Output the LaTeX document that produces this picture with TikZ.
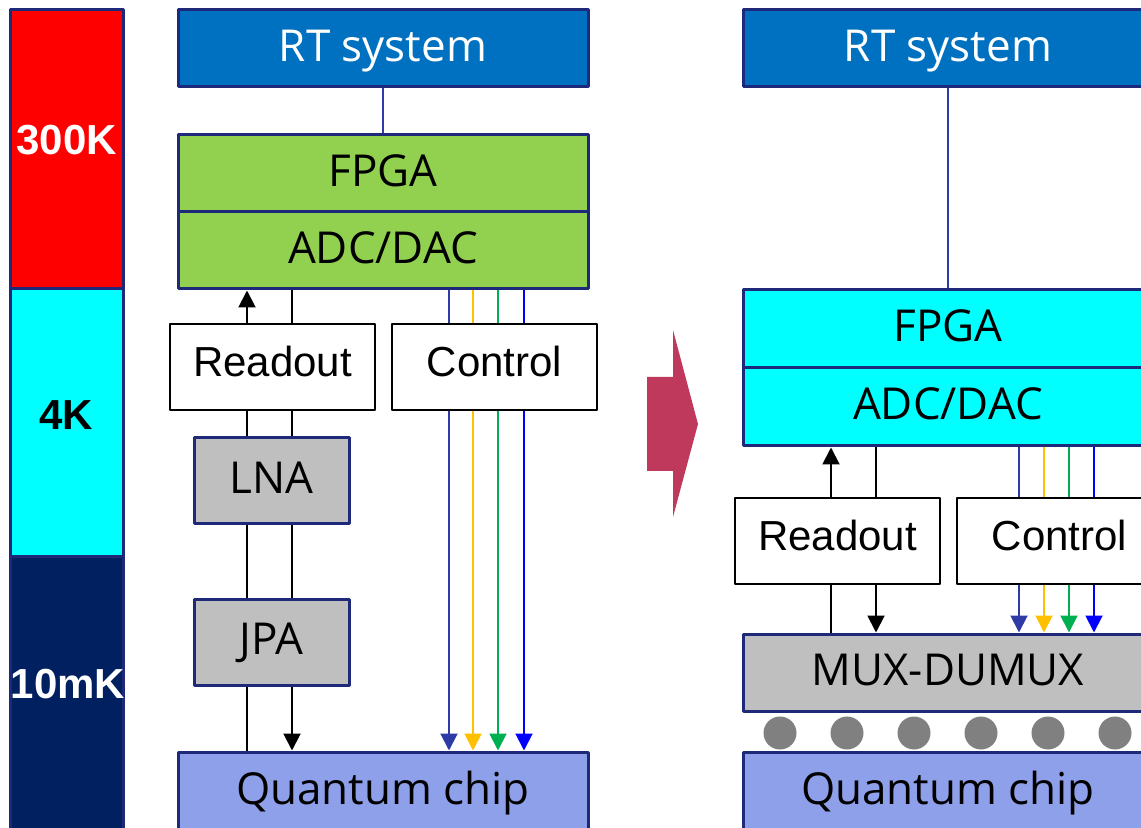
\documentclass[tikz,border=0pt]{standalone}
\usepackage{fontspec}
\setmainfont{Liberation Sans}
\newfontfamily\blockfont{Open Sans}
\usetikzlibrary{arrows.meta}
\definecolor{navyline}{HTML}{1F297A}
\definecolor{navyfill}{HTML}{002060}
\definecolor{rtblue}{HTML}{0070C0}
\definecolor{fpgagreen}{HTML}{92D050}
\definecolor{stagecyan}{HTML}{00FFFF}
\definecolor{ampgray}{HTML}{BFBFBF}
\definecolor{chipblue}{HTML}{8FA0EA}
\definecolor{dotgray}{HTML}{808080}
\definecolor{arrowred}{HTML}{BE395B}
\definecolor{ctrlA}{HTML}{2E3BA6}
\definecolor{ctrlB}{HTML}{FFC000}
\definecolor{ctrlC}{HTML}{00B050}
\definecolor{ctrlD}{HTML}{0000FF}
\tikzset{
  every picture/.style={line join=round, >={Triangle[length=8.5pt,width=8.5pt]}},
  unit/.style={draw=navyline, line width=1.5pt, minimum width=205pt, minimum height=38.5pt,
    inner sep=0pt, text height=17pt, text depth=4.3pt, font=\blockfont\fontsize{22}{26}\selectfont},
  amp/.style={unit, fill=ampgray, minimum width=77.5pt, minimum height=43pt},
  board/.style={draw=black, line width=0.75pt, fill=white, minimum width=102.5pt, minimum height=43pt,
    inner sep=0pt, text height=15pt, text depth=5pt, font=\fontsize{21}{25}\selectfont},
  band/.style={draw=navyline, line width=1.5pt},
  temp/.style={anchor=base, inner sep=0pt, font=\bfseries\fontsize{21}{25}\selectfont},
  sig/.style={line width=1pt},
}

\begin{document}
\begin{tikzpicture}[x=0.5pt, y=-0.5pt]
\useasboundingbox (0,0) rectangle (1141,828);

% temperature stages
\draw[band, fill=red] (10,10) rectangle (123,289);
\draw[band, fill=stagecyan] (10,289) rectangle (123,557);
\draw[band, fill=navyfill] (10,557) rectangle (123,840);
\node[temp, text=white] (k300) at (66.5,155) {300K};
\node[temp] (k4) at (66,430) {4K};
\node[temp, text=white] (mk10) at (68,698) {10mK};

% conventional setup
\node[unit, fill=rtblue, text=white] (rtL) at (383,48.5) {RT system};
\node[unit, fill=fpgagreen] (fpgaL) at (383,173.5) {FPGA};
\node[unit, fill=fpgagreen] (adcL) at (383,250.5) {ADC/DAC};
\node[board] (readL) at (272.5,367) {Readout};
\node[board] (ctrlL) at (494.5,367) {Control};
\node[amp] (lnaL) at (271.5,481) {LNA};
\node[amp] (jpaL) at (271.5,642) {JPA};
\node[unit, fill=chipblue, minimum height=40pt] (chipL) at (383,792) {Quantum chip};

\draw[sig, ctrlA] (rtL.south) -- (fpgaL.north);
\coordinate (upL) at (247,0);
\coordinate (dnL) at (292,0);
\draw[sig, ->] (readL.north -| upL) -- (adcL.south -| upL);
\draw[sig] (adcL.south -| dnL) -- (readL.north -| dnL);
\foreach \c in {upL,dnL} {
  \draw[sig] (readL.south -| \c) -- (lnaL.north -| \c);
  \draw[sig] (lnaL.south -| \c) -- (jpaL.north -| \c);
}
\draw[sig] (jpaL.south -| upL) -- (chipL.north -| upL);
\draw[sig, ->] (jpaL.south -| dnL) -- (chipL.north -| dnL);
\foreach \x/\col in {449/ctrlA,473/ctrlB,498/ctrlC,524/ctrlD} {
  \coordinate (cl) at (\x,0);
  \draw[sig, \col] (adcL.south -| cl) -- (ctrlL.north -| cl);
  \draw[sig, \col, ->] (ctrlL.south -| cl) -- (chipL.north -| cl);
}

% arrow between the two setups
\fill[arrowred] (647,377) -- (673,377) -- (673,330) -- (698,424) -- (673,517)
  -- (673,471) -- (647,471) -- cycle;

% cryo-CMOS setup
\node[unit, fill=rtblue, text=white] (rtR) at (948,48.5) {RT system};
\node[unit, fill=stagecyan, minimum height=39pt] (fpgaR) at (948,329) {FPGA};
\node[unit, fill=stagecyan, minimum height=39pt] (adcR) at (948,407) {ADC/DAC};
\node[board] (readR) at (837.5,541) {Readout};
\node[board] (ctrlR) at (1059.5,541) {Control};
\node[unit, fill=ampgray] (muxR) at (948,672.5) {MUX-DUMUX};
\node[unit, fill=chipblue, minimum height=40pt] (chipR) at (948,792) {Quantum chip};

\foreach \i in {0,...,5}
  \fill[dotgray] (780+67*\i,733) circle (16.5);

\draw[sig, ctrlA] (rtR.south) -- (fpgaR.north);
\coordinate (upR) at (831,0);
\coordinate (dnR) at (876,0);
\draw[sig, ->] (readR.north -| upR) -- (adcR.south -| upR);
\draw[sig] (adcR.south -| dnR) -- (readR.north -| dnR);
\draw[sig] (readR.south -| upR) -- (muxR.north -| upR);
\draw[sig, ->] (readR.south -| dnR) -- (muxR.north -| dnR);
\foreach \x/\col in {1019/ctrlA,1044/ctrlB,1069/ctrlC,1094/ctrlD} {
  \coordinate (cr) at (\x,0);
  \draw[sig, \col] (adcR.south -| cr) -- (ctrlR.north -| cr);
  \draw[sig, \col, ->] (ctrlR.south -| cr) -- (muxR.north -| cr);
}
\end{tikzpicture}
\end{document}
